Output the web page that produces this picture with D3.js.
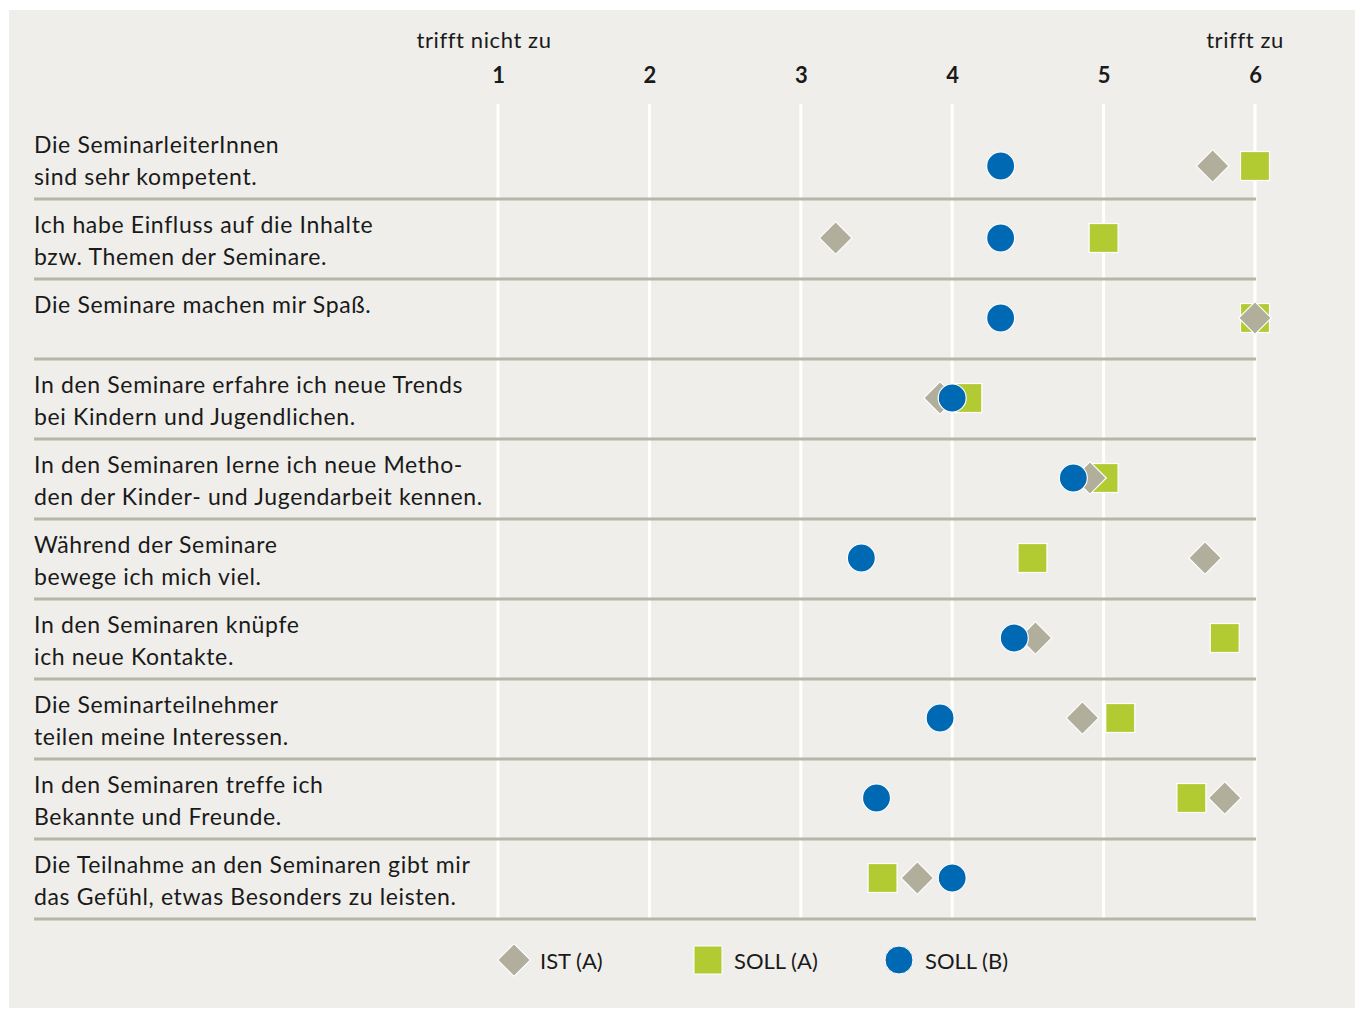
<!DOCTYPE html>
<html lang="de">
<head>
<meta charset="utf-8">
<title>Seminare – IST / SOLL</title>
<script src="https://d3js.org/d3.v7.min.js"></script>
<style>
  body { margin: 0; background: #fff; }
  svg text { font-family: Lato, "Open Sans", sans-serif; fill: #1a1a1a; }
</style>
</head>
<body>
<svg id="chart"></svg>
<script>
    // Aussagen (zweizeilig)
    var statements = [
        ["Die SeminarleiterInnen", "sind sehr kompetent."],
        ["Ich habe Einfluss auf die Inhalte", "bzw. Themen der Seminare."],
        ["Die Seminare machen mir Spaß.", ""],
        ["In den Seminare erfahre ich neue Trends", "bei Kindern und Jugendlichen."],
        ["In den Seminaren lerne ich neue Metho-", "den der Kinder- und Jugendarbeit kennen."],
        ["Während der Seminare", "bewege ich mich viel."],
        ["In den Seminaren knüpfe", "ich neue Kontakte."],
        ["Die Seminarteilnehmer", "teilen meine Interessen."],
        ["In den Seminaren treffe ich", "Bekannte und Freunde."],
        ["Die Teilnahme an den Seminaren gibt mir", "das Gefühl, etwas Besonders zu leisten."]
    ];

    var istA  = [5.72, 3.23, 6.00, 3.92, 4.91, 5.67, 4.55, 4.86, 5.80, 3.77];
    var sollA = [6.00, 5.00, 6.00, 4.10, 5.00, 4.53, 5.80, 5.11, 5.58, 3.54];
    var sollB = [4.32, 4.32, 4.32, 4.00, 4.80, 3.40, 4.41, 3.92, 3.50, 4.00];

    var ticks = [1, 2, 3, 4, 5, 6];
    var legendLabels = ["IST (A)", "SOLL (A)", "SOLL (B)"];

    var colDiamond = "#b1ae9b",
        colSquare = "#b2cb33",
        colCircle = "#0069b4";

    var width = 1355,
        height = 1009;

    var svg = d3.select("#chart")
        .attr("width", width)
        .attr("height", height);

    svg.append("rect")
        .attr("x", 9).attr("y", 10)
        .attr("width", width - 9).attr("height", 998)
        .attr("fill", "#efeeea");

    var x = d3.scaleLinear()
        .domain([1, 6])
        .range([498, 1255]);

    var y = d3.scaleBand()
        .domain(d3.range(statements.length))
        .range([119, 919]);

    // marker centre in each row (first row sits a bit lower)
    function my(i) {
        return y(i) + y.bandwidth() / 2 - 1 + (i === 0 ? 8 : 0);
    }

    // vertical gridlines
    svg.append("g")
        .selectAll("line")
        .data(ticks)
        .join("line")
        .attr("x1", function(d) { return x(d); })
        .attr("x2", function(d) { return x(d); })
        .attr("y1", 104)
        .attr("y2", 920)
        .attr("stroke", "#fff")
        .attr("stroke-width", 3);

    // row separators
    svg.append("g")
        .selectAll("line")
        .data(d3.range(statements.length))
        .join("line")
        .attr("x1", 34)
        .attr("x2", x(6) + 1)
        .attr("y1", function(i) { return y(i) + y.bandwidth(); })
        .attr("y2", function(i) { return y(i) + y.bandwidth(); })
        .attr("stroke", "#b8b6a5")
        .attr("stroke-width", 3);

    // axis labels on top
    var axis = svg.append("g")
        .attr("transform", "translate(0,83)")
        .call(d3.axisTop(x).tickValues(ticks).tickSize(0).tickPadding(0).tickFormat(d3.format("d")));
    axis.select(".domain").remove();
    axis.selectAll("text")
        .attr("font-family", "'Roboto Condensed', Roboto, sans-serif")
        .style("font-size", "22px")
        .style("font-weight", "bold")
        .attr("fill", "#1a1a1a");

    svg.append("text")
        .attr("x", x(1) - 14).attr("y", 48)
        .attr("text-anchor", "middle")
        .style("font-size", "22px")
        .style("letter-spacing", "0.6px")
        .text("trifft nicht zu");
    svg.append("text")
        .attr("x", x(6) - 10).attr("y", 48)
        .attr("text-anchor", "middle")
        .style("font-size", "22px")
        .style("letter-spacing", "0.6px")
        .text("trifft zu");

    // statement labels
    var labels = svg.append("g")
        .selectAll("text")
        .data(statements)
        .join("text")
        .attr("x", 34)
        .attr("y", function(d, i) { return y(i) + 34; })
        .style("font-size", "23px")
        .style("letter-spacing", "0.65px");
    labels.selectAll("tspan")
        .data(function(d) { return d; })
        .join("tspan")
        .attr("x", 34)
        .attr("dy", function(d, j) { return j === 0 ? 0 : 32; })
        .text(function(d) { return d; });

    var diamond = d3.symbol().type(d3.symbolSquare).size(23 * 23);

    // squares (SOLL A) drawn first, then diamonds, then circles
    svg.append("g")
        .selectAll("rect")
        .data(sollA)
        .join("rect")
        .attr("x", function(d) { return x(d) - 14.5; })
        .attr("y", function(d, i) { return my(i) - 14.5; })
        .attr("width", 29)
        .attr("height", 29)
        .attr("fill", colSquare)
        .attr("stroke", "#fff")
        .attr("stroke-width", 1.2);

    svg.append("g")
        .selectAll("path")
        .data(istA)
        .join("path")
        .attr("d", diamond)
        .attr("transform", function(d, i) { return "translate(" + x(d) + "," + my(i) + ") rotate(45)"; })
        .attr("fill", colDiamond)
        .attr("stroke", "#fff")
        .attr("stroke-width", 1.2);

    svg.append("g")
        .selectAll("circle")
        .data(sollB)
        .join("circle")
        .attr("cx", function(d) { return x(d); })
        .attr("cy", function(d, i) { return my(i); })
        .attr("r", 14)
        .attr("fill", colCircle)
        .attr("stroke", "#fff")
        .attr("stroke-width", 1.2);

    // legend
    var legendX = [514, 708, 899];
    var lg = svg.append("g")
        .selectAll("g")
        .data(legendLabels)
        .join("g")
        .attr("transform", function(d, i) { return "translate(" + legendX[i] + ",960)"; });

    lg.filter(function(d, i) { return i === 0; })
        .append("path")
        .attr("d", diamond)
        .attr("transform", "rotate(45)")
        .attr("fill", colDiamond)
        .attr("stroke", "#fff");
    lg.filter(function(d, i) { return i === 1; })
        .append("rect")
        .attr("x", -14).attr("y", -14)
        .attr("width", 28).attr("height", 28)
        .attr("fill", colSquare)
        .attr("stroke", "#fff");
    lg.filter(function(d, i) { return i === 2; })
        .append("circle")
        .attr("r", 14)
        .attr("fill", colCircle)
        .attr("stroke", "#fff");

    lg.append("text")
        .attr("x", 26)
        .attr("y", 9)
        .style("font-size", "22px")
        .text(function(d) { return d; });
</script>
</body>
</html>
